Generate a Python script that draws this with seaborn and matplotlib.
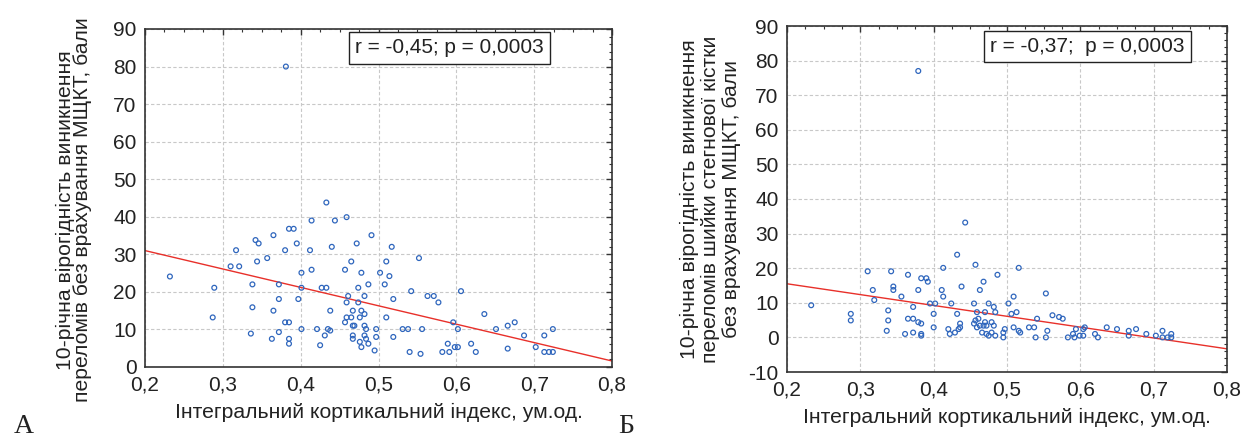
import numpy as np
import pandas as pd
import matplotlib
matplotlib.use("Agg")
import matplotlib.pyplot as plt
from matplotlib.ticker import MultipleLocator, FixedLocator, FixedFormatter
import seaborn as sns

# ── data ──────────────────────────────────────────────────────────────────────
LEFT_X = [
    0.232, 0.289, 0.287, 0.317, 0.310, 0.321, 0.342, 0.346, 0.344, 0.338,
    0.338, 0.336, 0.357, 0.365, 0.365, 0.363, 0.372, 0.372, 0.372, 0.380,
    0.385, 0.391, 0.380, 0.385, 0.385, 0.385, 0.395, 0.397, 0.401, 0.401,
    0.401, 0.412, 0.414, 0.414, 0.421, 0.425, 0.427, 0.433, 0.433, 0.431,
    0.435, 0.438, 0.438, 0.440, 0.444, 0.457, 0.457, 0.459, 0.459, 0.461,
    0.459, 0.465, 0.465, 0.467, 0.467, 0.469, 0.467, 0.467, 0.472, 0.474,
    0.474, 0.476, 0.476, 0.478, 0.478, 0.478, 0.482, 0.482, 0.482, 0.482,
    0.484, 0.484, 0.487, 0.487, 0.491, 0.495, 0.497, 0.497, 0.502, 0.508,
    0.510, 0.510, 0.514, 0.517, 0.519, 0.519, 0.531, 0.538, 0.540, 0.542,
    0.552, 0.554, 0.556, 0.563, 0.571, 0.577, 0.582, 0.589, 0.591, 0.596,
    0.598, 0.602, 0.602, 0.606, 0.619, 0.625, 0.636, 0.651, 0.666, 0.666,
    0.675, 0.687, 0.702, 0.713, 0.713, 0.719, 0.724, 0.724, 0.381,
]
LEFT_Y = [
    24.1, 21.1, 13.2, 31.1, 26.8, 26.8, 33.8, 32.9, 28.1, 22.0,
    15.9, 8.9, 29.0, 35.1, 15.0, 7.5, 22.0, 18.1, 9.3, 31.1,
    36.8, 36.8, 11.9, 11.9, 7.5, 6.2, 32.9, 18.1, 25.1, 21.1,
    10.1, 31.1, 39.0, 25.9, 10.1, 5.8, 21.1, 21.1, 43.8, 8.4,
    10.1, 9.7, 15.0, 32.0, 39.0, 25.9, 11.9, 39.9, 17.2, 18.9,
    13.2, 13.2, 28.1, 15.0, 11.0, 11.0, 8.4, 7.5, 32.9, 21.1,
    17.2, 13.2, 6.7, 25.1, 15.0, 5.3, 18.9, 14.1, 11.0, 8.4,
    10.1, 7.5, 22.0, 6.2, 35.1, 4.4, 10.1, 8.0, 25.1, 22.0,
    28.1, 13.2, 24.2, 32.0, 18.1, 8.0, 10.1, 10.1, 4.0, 20.2,
    29.0, 3.5, 10.1, 18.9, 18.9, 17.2, 4.0, 6.2, 4.0, 11.9,
    5.3, 5.3, 10.1, 20.2, 6.2, 4.0, 14.1, 10.1, 11.0, 4.9,
    11.9, 8.4, 5.3, 8.4, 4.0, 4.0, 4.0, 10.1, 80.0,
]
LEFT_FIT_X = [0.2, 0.8]
LEFT_FIT_Y = [31.0, 1.6]

RIGHT_X = [
    0.233, 0.287, 0.287, 0.310, 0.317, 0.319, 0.336, 0.338, 0.338, 0.342,
    0.345, 0.345, 0.356, 0.361, 0.365, 0.365, 0.372, 0.372, 0.372, 0.379,
    0.379, 0.383, 0.383, 0.383, 0.383, 0.390, 0.392, 0.395, 0.400, 0.400,
    0.402, 0.411, 0.413, 0.413, 0.420, 0.422, 0.424, 0.429, 0.432, 0.432,
    0.434, 0.436, 0.436, 0.438, 0.443, 0.455, 0.455, 0.457, 0.457, 0.459,
    0.461, 0.459, 0.463, 0.463, 0.466, 0.468, 0.468, 0.470, 0.470, 0.472,
    0.472, 0.475, 0.475, 0.479, 0.479, 0.482, 0.482, 0.484, 0.484, 0.487,
    0.495, 0.495, 0.497, 0.502, 0.506, 0.509, 0.509, 0.513, 0.516, 0.516,
    0.518, 0.530, 0.537, 0.539, 0.541, 0.553, 0.553, 0.555, 0.562, 0.571,
    0.576, 0.583, 0.590, 0.592, 0.594, 0.599, 0.604, 0.604, 0.606, 0.620,
    0.624, 0.636, 0.650, 0.666, 0.666, 0.676, 0.690, 0.703, 0.712, 0.712,
    0.719, 0.724, 0.724, 0.379,
]
RIGHT_Y = [
    9.3, 6.8, 4.9, 19.1, 13.7, 10.8, 1.9, 7.8, 4.9, 19.1,
    14.7, 13.7, 11.8, 1.0, 18.1, 5.4, 8.8, 5.4, 1.4, 13.7,
    4.4, 17.1, 4.0, 1.0, 0.5, 17.1, 16.1, 9.8, 6.8, 2.9,
    9.8, 13.7, 20.1, 11.8, 2.4, 1.0, 9.8, 1.4, 6.8, 23.9,
    2.4, 4.0, 2.9, 14.7, 33.2, 9.8, 4.0, 21.0, 4.9, 7.3,
    5.4, 2.9, 13.7, 3.4, 1.4, 16.1, 3.4, 7.3, 4.4, 3.4,
    1.0, 9.8, 0.5, 4.4, 1.4, 8.8, 3.4, 7.3, 0.5, 18.1,
    1.4, 0.0, 2.4, 9.8, 6.8, 11.8, 2.9, 7.3, 20.1, 1.9,
    1.4, 2.9, 2.9, 0.0, 5.4, 0.0, 12.7, 1.9, 6.4, 5.9,
    5.4, 0.0, 1.0, 0.0, 2.4, 0.5, 0.5, 2.4, 2.9, 1.0,
    0.0, 2.9, 2.4, 1.9, 0.5, 2.4, 1.0, 0.5, 1.9, 0.0,
    0.0, 1.0, 0.0, 77.0,
]
RIGHT_FIT_X = [0.2, 0.8]
RIGHT_FIT_Y = [15.5, -3.3]

X_TICKS = [0.2, 0.3, 0.4, 0.5, 0.6, 0.7, 0.8]
X_TICK_LABELS = ["0,2", "0,3", "0,4", "0,5", "0,6", "0,7", "0,8"]
LEFT_Y_TICKS = [0, 10, 20, 30, 40, 50, 60, 70, 80, 90]
RIGHT_Y_TICKS = [-10, 0, 10, 20, 30, 40, 50, 60, 70, 80, 90]

X_LABEL = "Інтегральний кортикальний індекс, ум.од."
LEFT_Y_LABEL = "10-річна вірогідність виникнення\nпереломів без врахування МЩКТ, бали"
RIGHT_Y_LABEL = ("10-річна вірогідність виникнення\n"
                 "переломів шийки стегнової кістки\n"
                 "без врахування МЩКТ, бали")
LEFT_STAT = "r = -0,45; p = 0,0003"
RIGHT_STAT = "r = -0,37;  p = 0,0003"

POINT_COLOR = "#2f66bd"
LINE_COLOR = "#e8302a"

# ── style ─────────────────────────────────────────────────────────────────────
sns.set_theme(style="white")
plt.rcParams["font.family"] = ["Liberation Sans", "DejaVu Sans"]
plt.rcParams["axes.unicode_minus"] = False


def draw_panel(ax, xs, ys, fit_x, fit_y, yticks, ylabel, stat, stat_pos, ylabel_pos, lsp):
    df = pd.DataFrame({"x": xs, "y": ys})
    fit = pd.DataFrame({"x": fit_x, "y": fit_y})
    sns.lineplot(data=fit, x="x", y="y", ax=ax, color=LINE_COLOR, lw=1.0, zorder=2)
    sns.scatterplot(data=df, x="x", y="y", ax=ax, marker="o", s=12,
                    facecolors="none", edgecolor=POINT_COLOR, linewidth=0.9, zorder=3)
    ax.set_xlim(0.2, 0.8)
    ax.set_ylim(yticks[0], yticks[-1])
    ax.xaxis.set_major_locator(FixedLocator(X_TICKS))
    ax.xaxis.set_major_formatter(FixedFormatter(X_TICK_LABELS))
    ax.xaxis.set_minor_locator(MultipleLocator(0.025))
    ax.yaxis.set_major_locator(FixedLocator(yticks))
    ax.yaxis.set_minor_locator(MultipleLocator(2))
    ax.grid(True, which="major", color="#c8c8c8", linestyle=(0, (3, 2)), linewidth=0.8)
    ax.tick_params(which="both", direction="in", top=True, right=True,
                   colors="#333333", labelcolor="#222222")
    ax.tick_params(which="major", length=4, width=1.0, labelsize=15, pad=6)
    ax.tick_params(which="minor", length=2.5, width=0.8)
    for sp in ax.spines.values():
        sp.set_color("#333333")
        sp.set_linewidth(1.2)
    ax.set_xlabel(X_LABEL, fontsize=15.2, color="#222222", labelpad=6)
    ax.set_ylabel(ylabel, fontsize=15.2, color="#222222", linespacing=lsp)
    ax.yaxis.set_label_coords(*ylabel_pos)
    ax.text(stat_pos[0], stat_pos[1], stat, transform=ax.transAxes,
            fontsize=15, color="#222222", ha="left", va="top", zorder=5,
            bbox=dict(boxstyle="square,pad=0.3", fc="white", ec="#222222", lw=1.0))


fig = plt.figure(figsize=(12.47, 4.43), dpi=100, facecolor="white")
ax_l = fig.add_axes([145 / 1247, 76 / 443, 467 / 1247, 338 / 443])
ax_r = fig.add_axes([787 / 1247, 71 / 443, 440 / 1247, 346 / 443])

draw_panel(ax_l, LEFT_X, LEFT_Y, LEFT_FIT_X, LEFT_FIT_Y, LEFT_Y_TICKS,
           LEFT_Y_LABEL, LEFT_STAT, (0.45, 0.972), (-0.114, 0.465), 0.88)
draw_panel(ax_r, RIGHT_X, RIGHT_Y, RIGHT_FIT_X, RIGHT_FIT_Y, RIGHT_Y_TICKS,
           RIGHT_Y_LABEL, RIGHT_STAT, (0.462, 0.968), (-0.105, 0.5), 1.12)

fig.text(14 / 1247, 4 / 443, "А", family=["Liberation Serif", "DejaVu Serif"],
         fontsize=20, color="#222222", ha="left", va="bottom")
fig.text(618 / 1247, 4 / 443, "Б", family=["Liberation Serif", "DejaVu Serif"],
         fontsize=20, color="#222222", ha="left", va="bottom")

fig.savefig("out.png", dpi=100, facecolor="white")
plt.close(fig)
